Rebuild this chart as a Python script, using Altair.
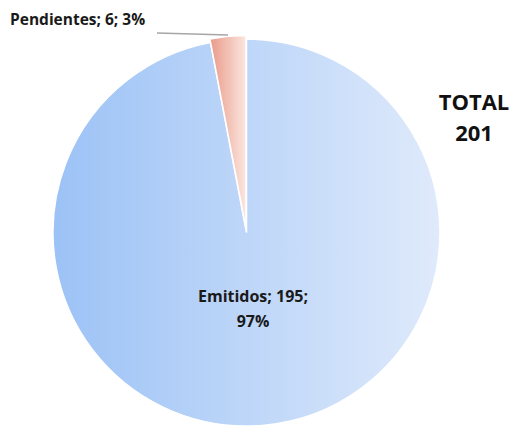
import altair as alt
import pandas as pd

categories = ["Emitidos", "Pendientes"]
values = [195, 6]
total_label = ["TOTAL", "201"]

total = sum(values)
pcts = [round(v / total * 100) for v in values]
starts, ends = [], []
acc = 0
for v in values:
    starts.append(acc / total)
    acc += v
    ends.append(acc / total)

df = pd.DataFrame({"category": categories, "value": values, "pct": pcts,
                   "start": starts, "end": ends})

W, H = 503, 418
CX, CY, R = 238.5, 224.5, 193.5
FONT = "Open Sans"

theta_scale = alt.Scale(domain=[0, 1], range=[0, 6.283185307179586])

grad_blue = alt.LinearGradient(
    gradient="linear", x1=0, y1=0, x2=1, y2=0,
    stops=[alt.GradientStop(color="#9cc2f6", offset=0),
           alt.GradientStop(color="#dfeafb", offset=1)])
grad_red = alt.LinearGradient(
    gradient="linear", x1=0, y1=0, x2=1, y2=0,
    stops=[alt.GradientStop(color="#e99a88", offset=0),
           alt.GradientStop(color="#fbe6e0", offset=1)])

base = alt.Chart(df)

emit = base.transform_filter(alt.datum.category == "Emitidos").mark_arc(
    color=grad_blue, stroke="white", strokeWidth=1.5
).encode(
    theta=alt.Theta("start:Q", scale=theta_scale),
    theta2="end:Q",
    x=alt.value(CX), y=alt.value(CY), radius=alt.value(R),
)

pend = base.transform_filter(alt.datum.category == "Pendientes").mark_arc(
    color=grad_red, stroke="white", strokeWidth=1.5
).encode(
    theta=alt.Theta("start:Q", scale=theta_scale),
    theta2="end:Q",
    x=alt.value(CX - 0.5), y=alt.value(CY - 3.5), radius=alt.value(R),
)

leader = base.transform_filter(alt.datum.category == "Pendientes").mark_rule(
    color="#a6a6a6", strokeWidth=1.5
).encode(x=alt.value(149), x2=alt.value(220), y=alt.value(25), y2=alt.value(27))

pend_label = base.transform_filter(alt.datum.category == "Pendientes").transform_calculate(
    label="datum.category + '; ' + datum.value + '; ' + datum.pct + '%'"
).mark_text(font=FONT, fontWeight="bold", fontSize=15.5, align="left",
            baseline="alphabetic", color="#1a1a1a").encode(
    text="label:N", x=alt.value(2), y=alt.value(17))

emit_label = base.transform_filter(alt.datum.category == "Emitidos").transform_calculate(
    label="[datum.category + '; ' + datum.value + ';', datum.pct + '%']"
).mark_text(font=FONT, fontWeight="bold", fontSize=16, align="center",
            baseline="middle", lineHeight=25, color="#1a1a1a").encode(
    text="label:N", x=alt.value(245), y=alt.value(289))

total_text = alt.Chart(pd.DataFrame({"t": [total_label]})).mark_text(
    font=FONT, fontWeight="bold", fontSize=22, align="center", baseline="middle",
    lineHeight=31, color="#111111"
).encode(text="t:N", x=alt.value(466), y=alt.value(95))

chart = alt.layer(emit, pend, leader, pend_label, emit_label, total_text).properties(
    width=W, height=H,
    autosize=alt.AutoSizeParams(type="none"),
    padding=0,
).configure_view(stroke=None)

chart.save("out.html", embed_options={"renderer": "svg", "actions": False})
